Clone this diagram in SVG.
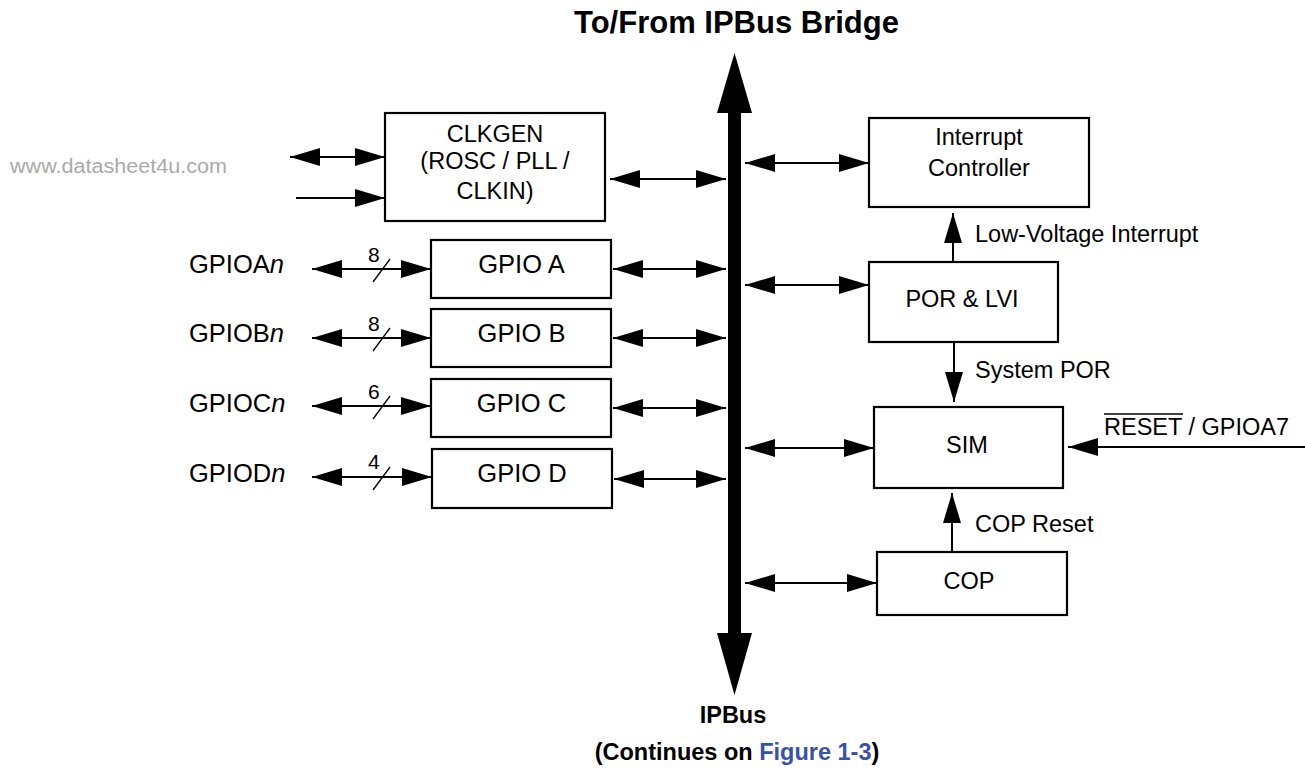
<svg xmlns="http://www.w3.org/2000/svg" width="1305" height="769" viewBox="0 0 1305 769">
<style>
.box{fill:#fff;stroke:#000;stroke-width:2.2}
.ln{stroke:#000;stroke-width:2;fill:none}
.t{font-family:"Liberation Sans",Arial,sans-serif;font-size:23.5px;fill:#000}
.c{text-anchor:middle}
.b{font-weight:bold}
.g{font-size:25.5px}
.d{font-family:"Liberation Sans",Arial,sans-serif;font-size:21px;fill:#000}
</style>
<defs>
<marker id="ah" markerUnits="userSpaceOnUse" markerWidth="32" markerHeight="20" refX="30" refY="9" orient="auto-start-reverse" viewBox="0 0 32 20">
<path d="M0,0 L30,9 L0,18 Z" fill="#000"/>
</marker>
</defs>
<rect width="1305" height="769" fill="#fff"/>
<text class="t c b" x="736.5" y="33" style="font-size:31px">To/From IPBus Bridge</text>
<text x="10" y="173" style="font-family:'Liberation Sans',Arial,sans-serif;font-size:20px;fill:#aaaaaa" textLength="217" lengthAdjust="spacingAndGlyphs">www.datasheet4u.com</text>

<g id="connectors">
<path d="M728,113 H741 V633 H728 Z" fill="#000"/>
<path d="M734.5,53 L752,113 L717,113 Z" fill="#000"/>
<path d="M734.5,695 L752,633 L717,633 Z" fill="#000"/>
<line class="ln" x1="290" y1="157" x2="385" y2="157" marker-start="url(#ah)" marker-end="url(#ah)"/>
<line class="ln" x1="296" y1="198" x2="385" y2="198" marker-end="url(#ah)"/>
<line class="ln" x1="610" y1="179" x2="726" y2="179" marker-start="url(#ah)" marker-end="url(#ah)"/>
<line class="ln" x1="312" y1="269" x2="431" y2="269" marker-start="url(#ah)" marker-end="url(#ah)"/>
<line class="ln" x1="312" y1="338" x2="431" y2="338" marker-start="url(#ah)" marker-end="url(#ah)"/>
<line class="ln" x1="312" y1="406" x2="431" y2="406" marker-start="url(#ah)" marker-end="url(#ah)"/>
<line class="ln" x1="312" y1="477" x2="432" y2="477" marker-start="url(#ah)" marker-end="url(#ah)"/>
<line class="ln" style="stroke-width:1.3" x1="373" y1="282" x2="390" y2="259"/>
<line class="ln" style="stroke-width:1.3" x1="373" y1="351" x2="390" y2="328"/>
<line class="ln" style="stroke-width:1.3" x1="373" y1="419" x2="390" y2="396"/>
<line class="ln" style="stroke-width:1.3" x1="373" y1="490" x2="390" y2="467"/>
<text class="d" x="368" y="262">8</text>
<text class="d" x="368" y="331">8</text>
<text class="d" x="368" y="399">6</text>
<text class="d" x="368" y="469">4</text>
<line class="ln" x1="613" y1="269" x2="726" y2="269" marker-start="url(#ah)" marker-end="url(#ah)"/>
<line class="ln" x1="613" y1="338" x2="726" y2="338" marker-start="url(#ah)" marker-end="url(#ah)"/>
<line class="ln" x1="613" y1="408" x2="726" y2="408" marker-start="url(#ah)" marker-end="url(#ah)"/>
<line class="ln" x1="614" y1="479" x2="726" y2="479" marker-start="url(#ah)" marker-end="url(#ah)"/>
<line class="ln" x1="745" y1="163" x2="869" y2="163" marker-start="url(#ah)" marker-end="url(#ah)"/>
<line class="ln" x1="745" y1="285" x2="869" y2="285" marker-start="url(#ah)" marker-end="url(#ah)"/>
<line class="ln" x1="745" y1="448" x2="874" y2="448" marker-start="url(#ah)" marker-end="url(#ah)"/>
<line class="ln" x1="745" y1="583" x2="877" y2="583" marker-start="url(#ah)" marker-end="url(#ah)"/>
<line class="ln" x1="953" y1="262" x2="953" y2="213" marker-end="url(#ah)"/>
<line class="ln" x1="954" y1="342" x2="954" y2="402" marker-end="url(#ah)"/>
<line class="ln" x1="952" y1="552" x2="952" y2="493" marker-end="url(#ah)"/>
<line class="ln" x1="1305" y1="447" x2="1068" y2="447" marker-end="url(#ah)"/>
<text class="t" x="975" y="242">Low-Voltage Interrupt</text>
<text class="t" x="975" y="378">System POR</text>
<text class="t" x="975" y="532">COP Reset</text>
<text class="t" x="1104" y="435">RESET / GPIOA7</text>
<line class="ln" style="stroke-width:1.5" x1="1104" y1="414" x2="1183" y2="414"/>
<text class="t g" x="189" y="273">GPIOA<tspan font-style="italic">n</tspan></text>
<text class="t g" x="189" y="342">GPIOB<tspan font-style="italic">n</tspan></text>
<text class="t g" x="189" y="412">GPIOC<tspan font-style="italic">n</tspan></text>
<text class="t g" x="189" y="482">GPIOD<tspan font-style="italic">n</tspan></text>
</g>

<g id="clkgen">
<rect class="box" x="385" y="113" width="220" height="108"/>
<text class="t c" x="495" y="142">CLKGEN</text>
<text class="t c" x="495" y="169">(ROSC / PLL /</text>
<text class="t c" x="495" y="199">CLKIN)</text>
</g>
<g id="gpioa"><rect class="box" x="431" y="240" width="180" height="58"/><text class="t c g" x="521.5" y="273">GPIO A</text></g>
<g id="gpiob"><rect class="box" x="431" y="309" width="180" height="58"/><text class="t c g" x="521.5" y="342">GPIO B</text></g>
<g id="gpioc"><rect class="box" x="431" y="379" width="180" height="58"/><text class="t c g" x="521.5" y="412">GPIO C</text></g>
<g id="gpiod"><rect class="box" x="432" y="449" width="180" height="59"/><text class="t c g" x="522" y="482">GPIO D</text></g>
<g id="intc">
<rect class="box" x="869" y="118" width="220" height="89"/>
<text class="t c" x="979" y="145">Interrupt</text>
<text class="t c" x="979" y="176">Controller</text>
</g>
<g id="porlvi"><rect class="box" x="869" y="262" width="189" height="80"/><text class="t c" x="962" y="307">POR &amp; LVI</text></g>
<g id="sim"><rect class="box" x="874" y="407" width="189" height="81"/><text class="t c" x="967" y="453">SIM</text></g>
<g id="cop"><rect class="box" x="877" y="552" width="190" height="63"/><text class="t c" x="969" y="589">COP</text></g>

<text class="t c b" x="733" y="723">IPBus</text>
<text class="t c b" x="737" y="760">(Continues on <tspan fill="#3a52a4">Figure 1-3</tspan>)</text>
</svg>
